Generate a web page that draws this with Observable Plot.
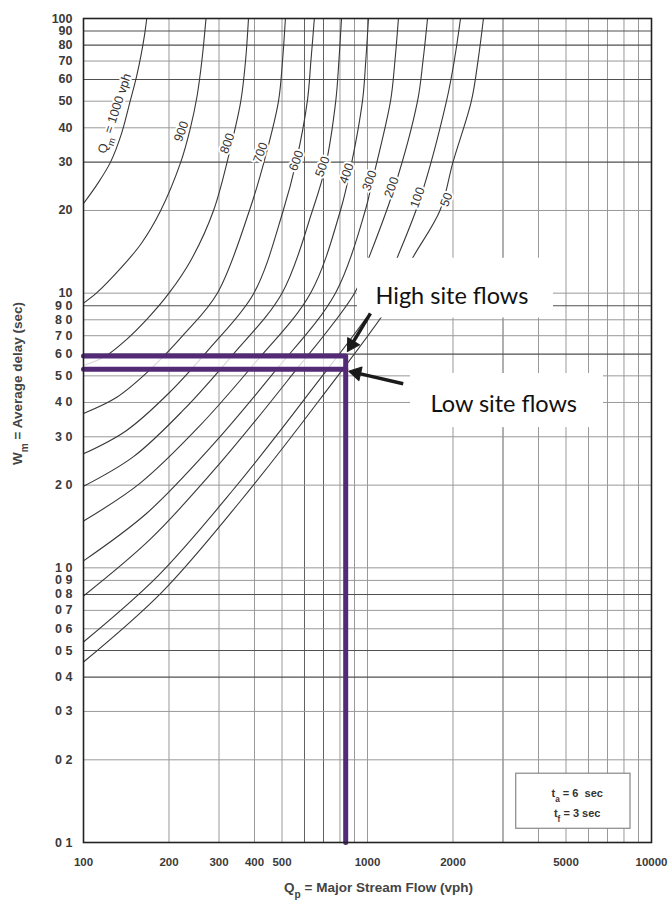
<!DOCTYPE html>
<html>
<head>
<meta charset="utf-8">
<script src="https://cdn.jsdelivr.net/npm/d3@7"></script>
<script src="https://cdn.jsdelivr.net/npm/@observablehq/plot@0.6"></script>
<style>
  html, body { margin: 0; padding: 0; background: #fff; }
  #chart svg { display: block; }
</style>
</head>
<body>
<div id="chart"></div>
<script>
// ---- Curves: Qm (minor stream flow, vph) -> [Qp, Wm] points ----
const qm1000 = [[100,21.2],[112,25],[124.5,30],[136,38],[146,50],[154,62],[160,75],[164,87],[167,100]];
const qm900  = [[100,9.2],[111,10],[135,12.3],[160,15.2],[187,20],[220,30],[238,40],[251,52],[261,70],[270,100]];
const qm800  = [[100,5.45],[119,5.88],[141,6.75],[168,8.08],[200,10],[240,13.3],[287,20],[332,35],[358,50],[372,70],[381,100]];
const qm700  = [[100,3.65],[131,4.18],[172,5.28],[226,7.09],[296,10],[384,20],[441,32.5],[486,50],[502,70],[514,100]];
const qm600  = [[100,2.6],[141,3.15],[200,4.33],[282,6.4],[398,10],[505,20],[562,30.4],[614,50],[632,70],[650,100]];
const qm500  = [[100,1.98],[150,2.54],[224,3.74],[334,5.94],[500,10],[640,20],[711,28.9],[773,50],[793,70],[810,100]];
const qm400  = [[100,1.48],[158,2.03],[251,3.21],[398,5.51],[630,10],[803,20],[864,27.3],[960,50],[986,70],[1008,100]];
const qm300  = [[100,1.06],[167,1.58],[278,2.72],[463,5.07],[771,10],[982,20],[1041,25.7],[1205,50],[1249,70],[1285,100]];
const qm200  = [[100,0.79],[173,1.28],[300,2.38],[520,4.77],[900,10],[998,13],[1245,24.3],[1500,50],[1568,70],[1627,100]];
const qm100  = [[100,0.537],[183,0.935],[336,1.92],[616,4.26],[1130,10],[1255,13],[1537,22.3],[1897,50],[2020,70],[2126,100]];
const qm50   = [[100,0.454],[189,0.816],[356,1.744],[673,4.05],[1270,10],[1417,13],[1800,20],[2000,30],[2321,50],[2449,70],[2560,100]];
const curveNames = ["1000","900","800","700","600","500","400","300","200","100","50"];
const curveSeries = [qm1000, qm900, qm800, qm700, qm600, qm500, qm400, qm300, qm200, qm100, qm50];

// ---- Curve labels ----
const curveLabelText = ["Q_m = 1000 vph","900","800","700","600","500","400","300","200","100","50"];
const curveLabelX = [128.6, 221, 321, 420, 562, 694, 844, 1016, 1215, 1500, 1897];
const curveLabelY = [45.1, 38.8, 35.1, 32.5, 30.4, 28.9, 27.3, 25.7, 24.3, 22.3, 21.9];
const curveLabelAngle = [-72, -70, -70, -70, -70, -70, -70, -70, -70, -70, -70];

// ---- Axes ----
const xTickValues = [100, 200, 300, 400, 500, 1000, 2000, 5000, 10000];
const xTickLabels = ["100", "200", "300", "400", "500", "1000", "2000", "5000", "10000"];
const yTickValues = [100,90,80,70,60,50,40,30,20,10,9,8,7,6,5,4,3,2,1,0.9,0.8,0.7,0.6,0.5,0.4,0.3,0.2,0.1];
const yTickLabels = ["100","90","80","70","60","50","40","30","20","10","9 0","8 0","7 0","6 0","5 0","4 0","3 0","2 0","1 0","0 9","0 8","0 7","0 6","0 5","0 4","0 3","0 2","0 1"];
const xGridLight = [200,300,400,500,800,900,1000,2000,4000,5000,6000,7000,8000,9000];
const xGridDark = [600,700,3000];
const yGridLight = [0.2,0.3,0.6,0.7,0.9,1,2,3,4,5,7,8,10,20,40,50,70];
const yGridDark = [0.4,0.5,0.8,6,9,30,60,80,90];
const xTitle = "Q_p = Major Stream Flow (vph)";
const yTitle = "W_m = Average delay (sec)";

// ---- Site-flow annotation (purple lines) ----
const purpleUpperX = [100, 838, 838];
const purpleUpperY = [5.91, 5.91, 0.1];
const purpleLowerX = [100, 838];
const purpleLowerY = [5.28, 5.28];

// ---- Text annotations ----
const noteText = ["High site flows", "Low site flows"];
const noteX = [1067, 1667];
const noteY = [9.75, 3.93];
const noteBoxX1 = [922, 1417];
const noteBoxX2 = [4518, 6776];
const noteBoxY1 = [8.12, 3.24];
const noteBoxY2 = [13.4, 5.10];
const arrowX1 = [1024, 1336];
const arrowY1 = [8.44, 4.68];
const arrowX2 = [850, 859];
const arrowY2 = [6.13, 5.2];

// ---- Legend box ----
const legendLines = ["t_a = 6  sec", "t_f = 3 sec"];
const legendX = [5474, 5474];
const legendY = [0.1513, 0.1273];
const legendBoxX = [3339, 8435];
const legendBoxY = [0.1122, 0.178];

// ---- Frame geometry (margins) ----
const W = 670, H = 900, mL = 83, mR = 19, mT = 18, mB = 58;
const xDomain = [100, 10000], yDomain = [0.1, 100];

// ---- Build tables ----
const curveRows = curveSeries.flatMap((s, i) => s.map(([x, y]) => ({qm: curveNames[i], x, y})));
const labelRows = curveLabelText.map((t, i) => ({text: t, x: curveLabelX[i], y: curveLabelY[i], r: curveLabelAngle[i]}));
const upperRows = purpleUpperX.map((x, i) => ({x, y: purpleUpperY[i]}));
const lowerRows = purpleLowerX.map((x, i) => ({x, y: purpleLowerY[i]}));
const bandRows = [{x1: purpleLowerX[0], x2: purpleLowerX[1], y1: purpleLowerY[0], y2: purpleUpperY[0]}];
const noteRows = noteText.map((t, i) => ({text: t, x: noteX[i], y: noteY[i]}));
const boxRows = noteBoxX1.map((x1, i) => ({x1, x2: noteBoxX2[i], y1: noteBoxY1[i], y2: noteBoxY2[i]}));
const legendRows = legendLines.map((t, i) => ({text: t, x: legendX[i], y: legendY[i]}));
const legendBoxRows = [{x1: legendBoxX[0], x2: legendBoxX[1], y1: legendBoxY[0], y2: legendBoxY[1]}];
const xTickRows = xTickValues.map((v, i) => ({v, label: xTickLabels[i]}));
const yTickRows = yTickValues.map((v, i) => ({v, label: yTickLabels[i]}));

// arrow shafts stop at the base of a filled triangular head (angle from the scales)
const sx = Plot.scale({x: {type: "log", domain: xDomain, range: [mL, W - mR]}});
const sy = Plot.scale({y: {type: "log", domain: yDomain, range: [H - mB, mT]}});
const headTip = 8;   // px from triangle centre to tip
const headBase = 4;  // px from triangle centre to base
const arrowRows = arrowX1.map((x1, i) => {
  const px1 = sx.apply(x1), py1 = sy.apply(arrowY1[i]);
  const px2 = sx.apply(arrowX2[i]), py2 = sy.apply(arrowY2[i]);
  const dx = px2 - px1, dy = py2 - py1, len = Math.hypot(dx, dy);
  const ux = dx / len, uy = dy / len;
  const cx = px2 - ux * headTip, cy = py2 - uy * headTip;
  return {
    x1, y1: arrowY1[i],
    xs: sx.invert(cx - ux * headBase + ux * 1), ys: sy.invert(cy - uy * headBase + uy * 1),
    cx: sx.invert(cx), cy: sy.invert(cy),
    rot: Math.atan2(dx, -dy) * 180 / Math.PI
  };
});

const chart = Plot.plot({
  width: W,
  height: H,
  marginLeft: mL,
  marginRight: mR,
  marginTop: mT,
  marginBottom: mB,
  x: {type: "log", domain: xDomain, axis: null},
  y: {type: "log", domain: yDomain, axis: null},
  style: {fontFamily: "'Liberation Sans', Arial, sans-serif", background: "#fff"},
  marks: [
    Plot.ruleX(xGridLight, {stroke: "#999", strokeWidth: 1}),
    Plot.ruleX(xGridDark, {stroke: "#606060", strokeWidth: 1}),
    Plot.ruleY(yGridLight, {stroke: "#999", strokeWidth: 1}),
    Plot.ruleY(yGridDark, {stroke: "#505050", strokeWidth: 1.1}),
    Plot.line(curveRows, {x: "x", y: "y", z: "qm", stroke: "#383838", strokeWidth: 1.1, curve: "catmull-rom", clip: true}),
    Plot.rect(bandRows, {x1: "x1", x2: "x2", y1: "y1", y2: "y2", fill: "#fff", fillOpacity: 0.8}),
    Plot.rect(boxRows, {x1: "x1", x2: "x2", y1: "y1", y2: "y2", fill: "#fff"}),
    Plot.text(labelRows, {x: "x", y: "y", text: "text", rotate: "r", fontSize: 12.5, fill: "#333", stroke: "#fff", strokeWidth: 4, paintOrder: "stroke"}),
    Plot.line(upperRows, {x: "x", y: "y", stroke: "#532a76", strokeWidth: 5, strokeLinejoin: "round"}),
    Plot.line(lowerRows, {x: "x", y: "y", stroke: "#532a76", strokeWidth: 5}),
    Plot.link(arrowRows, {x1: "x1", y1: "y1", x2: "xs", y2: "ys", stroke: "#1a1a1a", strokeWidth: 3.5}),
    Plot.dot(arrowRows, {x: "cx", y: "cy", rotate: "rot", symbol: "triangle", r: 5.2, fill: "#1a1a1a", stroke: "#1a1a1a", strokeWidth: 1, strokeLinejoin: "round"}),
    Plot.text(noteRows, {x: "x", y: "y", text: "text", textAnchor: "start", fontSize: 23.5, fontFamily: "Lato, 'Open Sans', sans-serif", fill: "#111"}),
    Plot.rect(legendBoxRows, {x1: "x1", x2: "x2", y1: "y1", y2: "y2", fill: "#fff", stroke: "#888", strokeWidth: 1.2}),
    Plot.text(legendRows, {x: "x", y: "y", text: "text", fontSize: 11, fontWeight: "bold", fill: "#333"}),
    Plot.frame({stroke: "#222", strokeWidth: 1.6}),
    // tick labels, positioned through the scales
    Plot.text(xTickRows, {x: "v", text: "label", frameAnchor: "bottom", lineAnchor: "top", dy: 15, fontSize: 11.5, fontWeight: "bold", fill: "#3a3a3a"}),
    Plot.text(yTickRows, {y: "v", text: "label", frameAnchor: "left", textAnchor: "end", dx: -11, fontSize: 12.5, fontWeight: "bold", fill: "#3a3a3a"}),
    // axis titles
    Plot.text([xTitle], {frameAnchor: "bottom", textAnchor: "middle", dx: 11, dy: 49, fontSize: 13.5, fontWeight: "bold", fill: "#444"}),
    Plot.text([yTitle], {frameAnchor: "left", textAnchor: "middle", dx: -66, dy: -47, rotate: -90, fontSize: 13.5, fontWeight: "bold", fill: "#444"})
  ]
});

// subscripts written as "_x" become real subscript tspans
d3.select(chart).selectAll("text").each(function () {
  const s = this.textContent;
  if (!s.includes("_")) return;
  const parts = s.split(/_(\w)/);
  const t = d3.select(this);
  t.text(null);
  parts.forEach((p, i) => {
    if (!p) return;
    const ts = t.append("tspan").text(p);
    if (i % 2 === 1) ts.attr("baseline-shift", "sub").attr("font-size", "75%");
  });
});

document.getElementById("chart").appendChild(chart);
</script>
</body>
</html>
